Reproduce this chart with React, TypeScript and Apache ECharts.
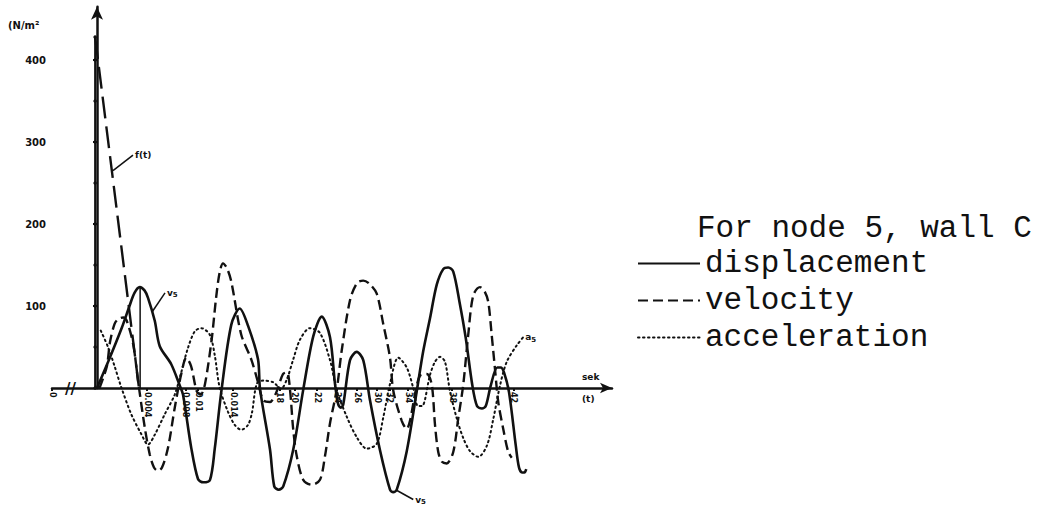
import React, { useEffect, useRef } from 'react';
import * as echarts from 'echarts';

// time axis (drawing units) – tick positions and their hand-written labels
const xTickValues = [-3.6, 4.0, 7.1, 8.1, 10.9, 14.6, 15.8, 17.6, 19.2, 20.8, 22.4, 23.4, 24.9, 28.4, 33.3];
const xTickLabels = ['0', '0.004', '0.008', '0.01', '0.014', '18', '20', '22', '24', '26', '30', '32', '34', '38', '42'];
const yTickValues = [100, 200, 300, 400];

// applied load f(t): instantaneous rise, then linear decay
const impulseTime = -0.15;
const impulseLevels = [0, 50, 100, 150, 200, 250, 300, 350, 400, 428];
const forceDecay = [[-0.15, 428], [3.36, 0]];

const displacement = [
  [0, 0], [1.0, 36], [2.0, 74], [2.6, 100], [3.0, 116], [3.42, 123], [3.8, 119], [4.08, 110], [4.62, 82], [5.02, 51],
  [5.94, 29], [6.62, 3], [6.88, -8], [7.54, -73], [8.08, -111], [8.5, -115], [9.04, -112], [9.42, -74], [9.94, -5],
  [10.74, 77], [11.42, 97], [12.08, 76], [12.88, 35], [13.04, -1], [13.84, -75], [14.18, -120], [14.54, -124],
  [14.9, -120], [15.7, -75], [16.5, -2], [17.3, 63], [17.98, 87], [18.64, 62], [19.04, 5], [19.3, -20], [19.5, -24],
  [19.7, -20], [20.24, 34], [20.78, 44], [21.3, 34], [21.84, -15], [22.64, -76], [23.44, -124], [23.7, -127],
  [23.98, -124], [24.78, -77], [25.58, -4], [26.1, 45], [26.64, 85], [27.18, 126], [27.7, 145], [28.1, 147],
  [28.5, 142], [29.0, 105], [29.5, 61], [30.02, 4], [30.4, -22], [30.8, -25], [31.1, -22], [31.5, 3], [32.02, 25],
  [32.3, 25], [32.56, 19], [32.96, -5], [33.5, -70], [33.76, -97], [34.0, -103], [34.2, -103], [34.34, -99],
];

const velocity = [
  [0.2, 0], [0.78, 26], [1.04, 56], [1.4, 78], [1.7, 84], [2.1, 86], [2.38, 82], [2.9, 53], [3.28, 9], [3.82, -48],
  [4.22, -81], [4.56, -97], [4.88, -101], [5.2, -97], [5.68, -73], [6.22, -24], [6.74, 17], [7.14, 37], [7.52, 27],
  [7.98, -4], [8.3, -8], [8.64, 5], [9.18, 60], [9.52, 109], [9.8, 140], [10.08, 152], [10.4, 146], [10.74, 130],
  [11.54, 65], [12.34, 35], [12.88, 7], [13.3, -15], [13.84, -17], [14.3, -7], [14.88, 17], [15.2, 19], [15.44, -2],
  [15.7, -51], [15.98, -83], [16.5, -112], [17.18, -118], [17.84, -112], [18.24, -83], [18.64, -43], [19.18, -2],
  [19.58, 46], [20.24, 107], [20.8, 128], [21.3, 131], [21.8, 127], [22.38, 115], [22.9, 78], [23.44, 37],
  [23.7, -3], [24.38, -40], [24.78, -50], [25.04, -40], [25.5, -3], [25.84, 15], [26.38, 17], [26.78, 4],
  [27.04, -45], [27.3, -78], [27.6, -90], [27.98, -92], [28.5, -78], [28.9, -37], [29.3, 4], [29.7, 65],
  [30.1, 113], [30.64, 123], [31.0, 118], [31.3, 105], [31.58, 64], [31.84, 23], [32.1, -17], [32.5, -50],
  [32.9, -78], [33.18, -85],
];

const acceleration = [
  [0.3, 70], [0.88, 50], [1.42, 26], [1.94, 1], [2.74, -32], [3.54, -56], [4.08, -69], [4.62, -57], [5.42, -32],
  [6.22, -8], [6.72, 18], [7.28, 49], [7.82, 69], [8.34, 73], [9.02, 65], [9.42, 40], [9.82, 0], [10.48, -29],
  [11.02, -45], [11.54, -51], [12.08, -45], [12.4, -30], [12.78, 5], [13.3, 9], [14.1, 7], [14.72, -1], [15.2, 11],
  [15.7, 35], [16.24, 59], [17.04, 73], [17.84, 67], [18.64, 34], [19.18, -3], [19.98, -35], [20.78, -60],
  [21.58, -74], [22.38, -68], [22.9, -36], [23.44, 5], [24.1, 37], [24.78, 25], [25.3, 0], [25.68, -22], [26.0, -22],
  [26.64, 16], [27.04, 32], [27.44, 38], [27.84, 32], [28.24, -4], [28.78, -37], [29.3, -61], [29.84, -77],
  [30.5, -84], [31.2, -70], [31.7, -38], [32.24, 3], [32.78, 32], [33.58, 52], [34.1, 62],
];

// annotation leader lines (data space)
const forceLeader = [[1.28, 265], [2.88, 284]];
const dispLeaderTop = [[4.42, 93], [5.44, 116]];
const dispLeaderBottom = [[24.0, -125], [25.3, -136]];
const dispPeakDrop = [[3.45, 0], [3.45, 122]];

const INK = '#111';
const labelFont = { fontFamily: 'DejaVu Sans', fontWeight: 'bold' as const, color: INK };
const subRich = { s: { fontSize: 7, fontWeight: 'bold', fontFamily: 'DejaVu Sans', color: INK, padding: [5, 0, 0, 0] } };

function leaderSeries(name: string, pts: number[][], text: string) {
  return {
    name,
    type: 'line',
    clip: false,
    data: pts,
    symbol: 'none',
    silent: true,
    lineStyle: { color: INK, width: 1.5, type: 'solid' },
    endLabel: { show: text !== '', formatter: text, fontSize: 9, distance: 2, ...labelFont, rich: subRich },
  };
}

export default function App() {
  const ref = useRef<HTMLDivElement>(null);
  useEffect(() => {
    const chart = echarts.init(ref.current!, null, { renderer: 'svg' });
    const xMin = xTickValues[0];
    const option: any = {
      animation: false,
      backgroundColor: '#fff',
      textStyle: { fontFamily: 'DejaVu Sans', color: INK },
      grid: { left: 52, top: 6.7, width: 560, height: 381.3, outerBoundsMode: 'none', containLabel: false },
      title: {
        text: 'For node 5, wall C',
        left: 697,
        top: 213,
        padding: 0,
        textStyle: { fontFamily: 'Liberation Mono', fontSize: 31, fontWeight: 'normal', color: INK },
      },
      legend: {
        data: ['displacement', 'velocity', 'acceleration'],
        orient: 'vertical',
        left: 637,
        top: 248,
        padding: 0,
        itemWidth: 62,
        itemHeight: 4,
        itemGap: 6,
        selectedMode: false,
        itemStyle: { opacity: 0, borderWidth: 0 },
        textStyle: { fontFamily: 'Liberation Mono', fontSize: 31, color: INK, lineHeight: 28 },
      },
      xAxis: {
        type: 'value',
        min: xMin,
        max: 41.2,
        name: 'sek\n(t)',
        nameLocation: 'end',
        nameGap: -30,
        nameTextStyle: { fontSize: 9, lineHeight: 22, ...labelFont, verticalAlign: 'middle' },
        axisLine: { symbol: ['none', 'arrow'], symbolSize: [8, 12], lineStyle: { color: INK, width: 2.5 } },
        axisTick: { show: true, customValues: xTickValues, length: 3, lineStyle: { color: INK, width: 2 } },
        axisLabel: {
          customValues: xTickValues,
          rotate: -90,
          fontSize: 8,
          margin: 4,
          ...labelFont,
          formatter: (val: number) => {
            const i = xTickValues.findIndex((t) => Math.abs(t - val) < 1e-6);
            return i >= 0 ? xTickLabels[i] : '';
          },
        },
        splitLine: { show: false },
      },
      yAxis: {
        type: 'value',
        min: 0,
        max: 465,
        axisLine: { show: true, symbol: ['none', 'arrow'], symbolSize: [9, 13], lineStyle: { color: INK, width: 2.5 } },
        axisTick: { show: true, customValues: yTickValues, length: 4, lineStyle: { color: INK, width: 2 } },
        axisLabel: { customValues: yTickValues, fontSize: 10, margin: 6, ...labelFont },
        splitLine: { show: false },
      },
      graphic: [
        { type: 'text', left: 8, top: 20, style: { text: '(N/m²', fontSize: 10, ...labelFont, fill: INK } },
        { type: 'text', left: 65, top: 381, style: { text: '//', fontSize: 15, fontFamily: 'DejaVu Sans', fontWeight: 'bold', fill: INK } },
      ],
      series: [
        {
          name: 'f(t) jump',
          type: 'line',
          clip: false,
          data: impulseLevels.map((v) => [impulseTime, v]),
          symbol: 'circle',
          symbolSize: 3.5,
          itemStyle: { color: INK },
          lineStyle: { color: INK, width: 2 },
        },
        {
          name: 'f(t)',
          type: 'line',
          clip: false,
          data: forceDecay,
          symbol: 'none',
          lineStyle: { color: INK, width: 2.4, type: [22, 8] },
        },
        leaderSeries('f(t) label', forceLeader, 'f(t)'),
        leaderSeries('v5 top', dispLeaderTop, 'v{s|5}'),
        leaderSeries('v5 bottom', dispLeaderBottom, 'v{s|5}'),
        leaderSeries('peak drop', dispPeakDrop, ''),
        {
          name: 'displacement',
          type: 'line',
          clip: false,
          smooth: 0.3,
          data: displacement,
          symbol: 'none',
          color: INK,
          lineStyle: { color: INK, width: 2.6, type: 'solid' },
        },
        {
          name: 'velocity',
          type: 'line',
          clip: false,
          smooth: 0.3,
          data: velocity,
          symbol: 'none',
          color: INK,
          lineStyle: { color: INK, width: 2.4, type: [10, 5] },
        },
        {
          name: 'acceleration',
          type: 'line',
          clip: false,
          smooth: 0.3,
          data: acceleration,
          symbol: 'none',
          color: INK,
          lineStyle: { color: INK, width: 2, type: [1.5, 3.5], cap: 'round' },
          endLabel: { show: true, formatter: 'a{s|5}', fontSize: 9, distance: 2, ...labelFont, rich: subRich },
        },
      ],
    };
    chart.setOption(option);
    return () => chart.dispose();
  }, []);
  return (
    <div
      ref={ref}
      style={{ position: 'fixed', left: 0, top: 0, width: 1045, height: 506, background: '#fff' }}
    />
  );
}
